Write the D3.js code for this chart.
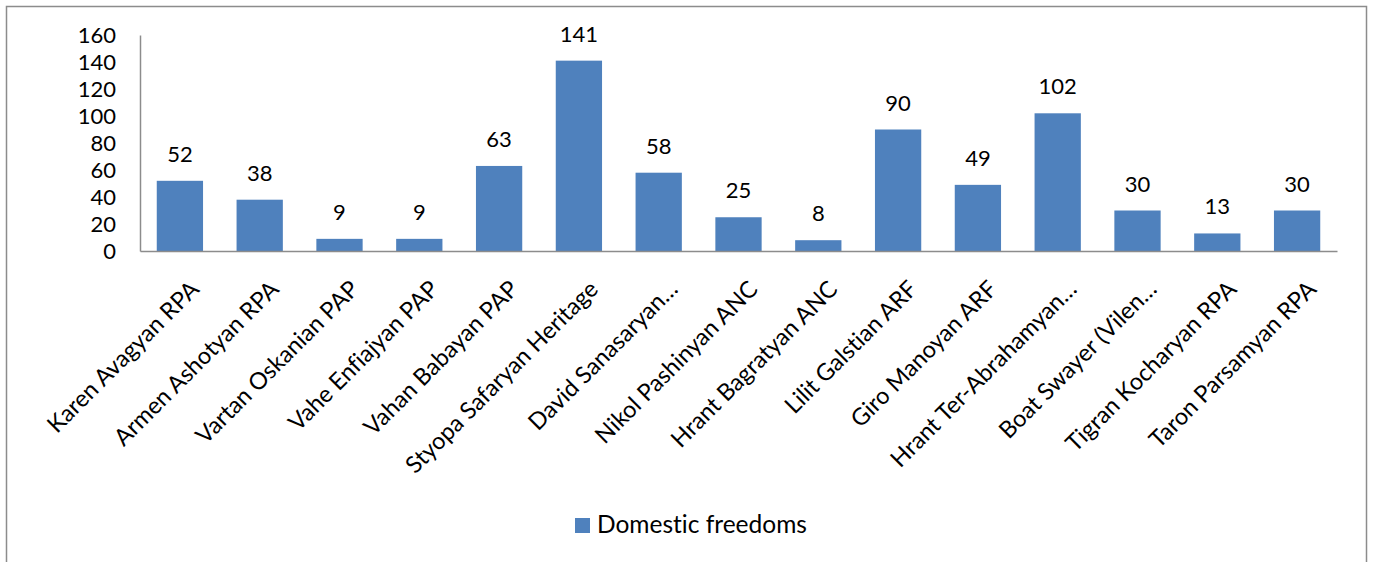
<!DOCTYPE html>
<html>
<head>
<meta charset="utf-8">
<script src="https://cdn.jsdelivr.net/npm/d3@7"></script>
<style>
  html, body { margin: 0; padding: 0; background: #fff; }
  svg { display: block; }
  text { font-family: Lato, "Open Sans", sans-serif; fill: #000; font-variant-ligatures: none; font-feature-settings: "liga" 0; }
</style>
</head>
<body>
<svg id="chart" width="1379" height="562"></svg>
<script>
const categories = [
  "Karen Avagyan RPA", "Armen Ashotyan RPA", "Vartan Oskanian PAP", "Vahe Enfiajyan PAP",
  "Vahan Babayan PAP", "Styopa Safaryan Heritage", "David Sanasaryan…", "Nikol Pashinyan ANC",
  "Hrant Bagratyan ANC", "Lilit Galstian ARF", "Giro Manoyan ARF", "Hrant Ter-Abrahamyan…",
  "Boat Swayer (Vilen…", "Tigran Kocharyan RPA", "Taron Parsamyan RPA"
];
const values = [52, 38, 9, 9, 63, 141, 58, 25, 8, 90, 49, 102, 30, 13, 30];
const yTicks = [0, 20, 40, 60, 80, 100, 120, 140, 160];
const seriesName = "Domestic freedoms";

const svg = d3.select("#chart");
const color = "#4F81BD";

// chart frame
svg.append("rect")
  .attr("x", 6.5).attr("y", 6.5)
  .attr("width", 1360).attr("height", 570)
  .attr("fill", "#fff").attr("stroke", "#8c8c8c").attr("stroke-width", 1.5);

const plot = { left: 140, right: 1337, top: 35, bottom: 251 };

const x = d3.scaleBand().domain(categories)
  .range([plot.left, plot.right]).paddingInner(0.42).paddingOuter(0.21);
const y = d3.scaleLinear().domain([0, 160]).range([plot.bottom, plot.top]);

// bars
svg.append("g").selectAll("rect").data(values).join("rect")
  .attr("x", (d, i) => x(categories[i]))
  .attr("y", d => y(d))
  .attr("width", x.bandwidth())
  .attr("height", d => y(0) - y(d))
  .attr("fill", color);

// y axis
const yAxis = svg.append("g").attr("transform", `translate(${plot.left},0)`)
  .call(d3.axisLeft(y).tickValues(yTicks).tickSize(0).tickPadding(24));
yAxis.select(".domain").attr("stroke", "#8c8c8c").attr("stroke-width", 1.5);
yAxis.selectAll("text").attr("font-size", 22).attr("font-family", "Lato, sans-serif").attr("fill", "#000");

// x axis
const xAxis = svg.append("g").attr("transform", `translate(0,${plot.bottom})`)
  .call(d3.axisBottom(x).tickSize(0).tickFormat(""));
xAxis.select(".domain").attr("stroke", "#8c8c8c").attr("stroke-width", 1.5);

// rotated category labels
svg.append("g").selectAll("text").data(categories).join("text")
  .attr("transform", d => `translate(${x(d) + x.bandwidth() / 2 + 9},${plot.bottom + 28}) rotate(-45)`)
  .attr("text-anchor", "end")
  .attr("dy", "0.7em")
  .attr("font-size", 23.5)
  .text(d => d);

// data labels
svg.append("g").selectAll("text").data(values).join("text")
  .attr("x", (d, i) => x(categories[i]) + x.bandwidth() / 2)
  .attr("y", d => y(d) - 19)
  .attr("text-anchor", "middle")
  .attr("font-size", 22)
  .text(d => d);

// legend
const lg = svg.append("g");
lg.append("rect").attr("x", 575).attr("y", 518).attr("width", 15).attr("height", 15).attr("fill", color);
lg.append("text").attr("x", 597).attr("y", 533).attr("font-size", 24.5).text(seriesName);
</script>
</body>
</html>
